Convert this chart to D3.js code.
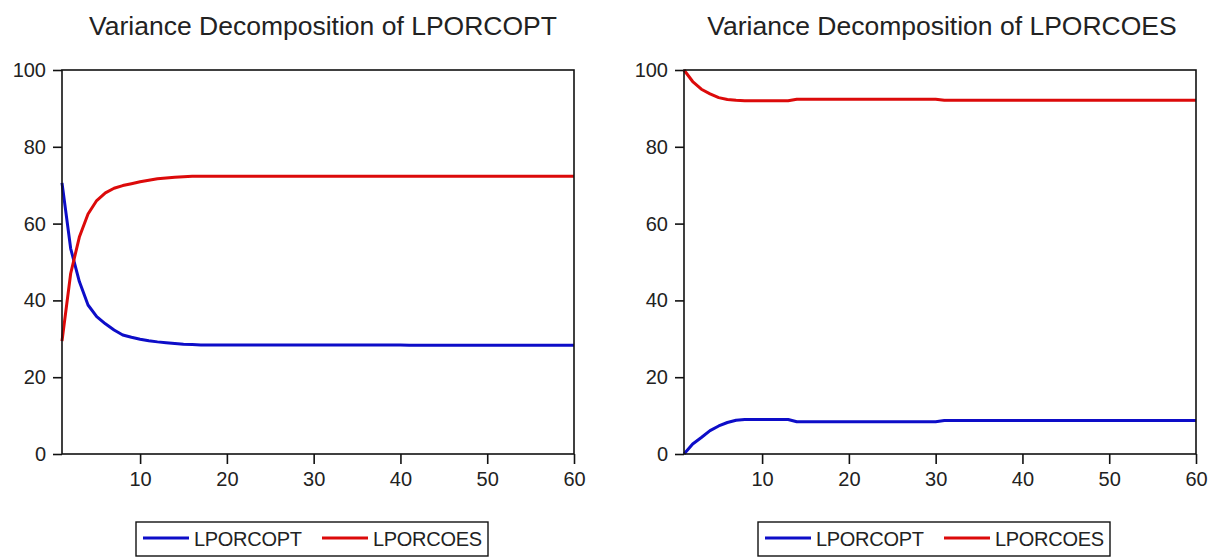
<!DOCTYPE html>
<html>
<head>
<meta charset="utf-8">
<script src="https://cdn.jsdelivr.net/npm/d3@7"></script>
<style>
  body { margin: 0; background: #fff; }
  text { font-family: "Liberation Sans", Arial, sans-serif; fill: #222; }
</style>
</head>
<body>
<script>
// periods 1..60
var periods = d3.range(1, 61);

var seriesNames = ["LPORCOPT", "LPORCOES"];
var seriesColors = ["#0d0dc8", "#dc0a0a"];

var titles = ["Variance Decomposition of LPORCOPT", "Variance Decomposition of LPORCOES"];

var yTicks = [0, 20, 40, 60, 80, 100];
var xTicks = [10, 20, 30, 40, 50, 60];

// Variance decomposition of LPORCOPT
var lporcopt_opt = [70.6, 53.5, 44.9, 38.8, 35.8, 33.9, 32.3, 31.0, 30.4, 29.9,
                    29.5, 29.2, 29.0, 28.8, 28.6, 28.5, 28.4, 28.4, 28.4, 28.4,
                    28.4, 28.4, 28.4, 28.4, 28.4, 28.4, 28.4, 28.4, 28.4, 28.4,
                    28.4, 28.4, 28.4, 28.4, 28.4, 28.4, 28.4, 28.4, 28.4, 28.4,
                    28.3, 28.3, 28.3, 28.3, 28.3, 28.3, 28.3, 28.3, 28.3, 28.3,
                    28.3, 28.3, 28.3, 28.3, 28.3, 28.3, 28.3, 28.3, 28.3, 28.3];
var lporcoes_opt = [29.4, 47.0, 56.5, 62.5, 66.0, 68.0, 69.2, 69.9, 70.4, 70.9,
                    71.3, 71.7, 71.9, 72.1, 72.2, 72.3, 72.3, 72.3, 72.3, 72.3,
                    72.3, 72.3, 72.3, 72.3, 72.3, 72.3, 72.3, 72.3, 72.3, 72.3,
                    72.3, 72.3, 72.3, 72.3, 72.3, 72.3, 72.3, 72.3, 72.3, 72.3,
                    72.3, 72.3, 72.3, 72.3, 72.3, 72.3, 72.3, 72.3, 72.3, 72.3,
                    72.3, 72.3, 72.3, 72.3, 72.3, 72.3, 72.3, 72.3, 72.3, 72.3];

// Variance decomposition of LPORCOES
var lporcopt_oes = [0.0, 2.6, 4.3, 6.1, 7.3, 8.2, 8.8, 9.0, 9.0, 9.0,
                    9.0, 9.0, 9.0, 8.4, 8.4, 8.4, 8.4, 8.4, 8.4, 8.4,
                    8.4, 8.4, 8.4, 8.4, 8.4, 8.4, 8.4, 8.4, 8.4, 8.4,
                    8.7, 8.7, 8.7, 8.7, 8.7, 8.7, 8.7, 8.7, 8.7, 8.7,
                    8.7, 8.7, 8.7, 8.7, 8.7, 8.7, 8.7, 8.7, 8.7, 8.7,
                    8.7, 8.7, 8.7, 8.7, 8.7, 8.7, 8.7, 8.7, 8.7, 8.7];
var lporcoes_oes = [100.0, 97.0, 95.0, 93.8, 92.8, 92.3, 92.1, 92.0, 92.0, 92.0,
                    92.0, 92.0, 92.0, 92.4, 92.4, 92.4, 92.4, 92.4, 92.4, 92.4,
                    92.4, 92.4, 92.4, 92.4, 92.4, 92.4, 92.4, 92.4, 92.4, 92.4,
                    92.1, 92.1, 92.1, 92.1, 92.1, 92.1, 92.1, 92.1, 92.1, 92.1,
                    92.1, 92.1, 92.1, 92.1, 92.1, 92.1, 92.1, 92.1, 92.1, 92.1,
                    92.1, 92.1, 92.1, 92.1, 92.1, 92.1, 92.1, 92.1, 92.1, 92.1];

var panels = [
  { left: 62,  title: titles[0], titleX: 323, series: [lporcopt_opt, lporcoes_opt] },
  { left: 684, title: titles[1], titleX: 942, series: [lporcopt_oes, lporcoes_oes] }
];

var width = 1217, height = 558,
    plotTop = 70, plotW = 512, plotH = 384;

var svg = d3.select("body").append("svg")
    .attr("width", width)
    .attr("height", height);

var xScale = d3.scaleLinear().domain([1, 60]).range([0, plotW]);
var yScale = d3.scaleLinear().domain([0, 100]).range([plotH, 0]);

var line = d3.line()
    .x(function(d, i) { return xScale(periods[i]); })
    .y(function(d) { return yScale(d); });

panels.forEach(function(p) {
  // title
  svg.append("text")
      .attr("x", p.titleX)
      .attr("y", 35)
      .attr("text-anchor", "middle")
      .style("font-size", "26.5px")
      .text(p.title);

  var g = svg.append("g").attr("transform", "translate(" + p.left + "," + plotTop + ")");

  // axes
  var yAxis = d3.axisLeft(yScale).tickValues(yTicks).tickSize(9).tickPadding(7);
  var xAxis = d3.axisBottom(xScale).tickValues(xTicks).tickSize(10).tickPadding(8);

  g.append("g").attr("class", "yaxis").call(yAxis);
  g.append("g").attr("class", "xaxis")
      .attr("transform", "translate(0," + plotH + ")")
      .call(xAxis);

  g.selectAll(".domain").remove();
  g.selectAll(".tick line").attr("stroke", "#111").attr("stroke-width", 1.6);
  g.selectAll(".tick text").style("font-size", "20px").attr("fill", "#222");

  // lines
  p.series.forEach(function(s, k) {
    g.append("path")
        .datum(s)
        .attr("fill", "none")
        .attr("stroke", seriesColors[k])
        .attr("stroke-width", 3)
        .attr("stroke-linejoin", "round")
        .attr("d", line);
  });

  // frame
  g.append("rect")
      .attr("x", 0).attr("y", 0)
      .attr("width", plotW).attr("height", plotH)
      .attr("fill", "none")
      .attr("stroke", "#111")
      .attr("stroke-width", 1.6);

  // legend
  var lg = svg.append("g").attr("transform", "translate(" + (p.left + 74) + ",522)");
  lg.append("rect")
      .attr("width", 352).attr("height", 34)
      .attr("fill", "#fff")
      .attr("stroke", "#111")
      .attr("stroke-width", 1.4);
  var offs = [7, 186];
  seriesNames.forEach(function(name, k) {
    lg.append("line")
        .attr("x1", offs[k]).attr("x2", offs[k] + 46)
        .attr("y1", 16).attr("y2", 16)
        .attr("stroke", seriesColors[k])
        .attr("stroke-width", 3);
    lg.append("text")
        .attr("x", offs[k] + 51)
        .attr("y", 24)
        .style("font-size", "20px")
        .style("letter-spacing", "-0.3px")
        .text(name);
  });
});
</script>
</body>
</html>
